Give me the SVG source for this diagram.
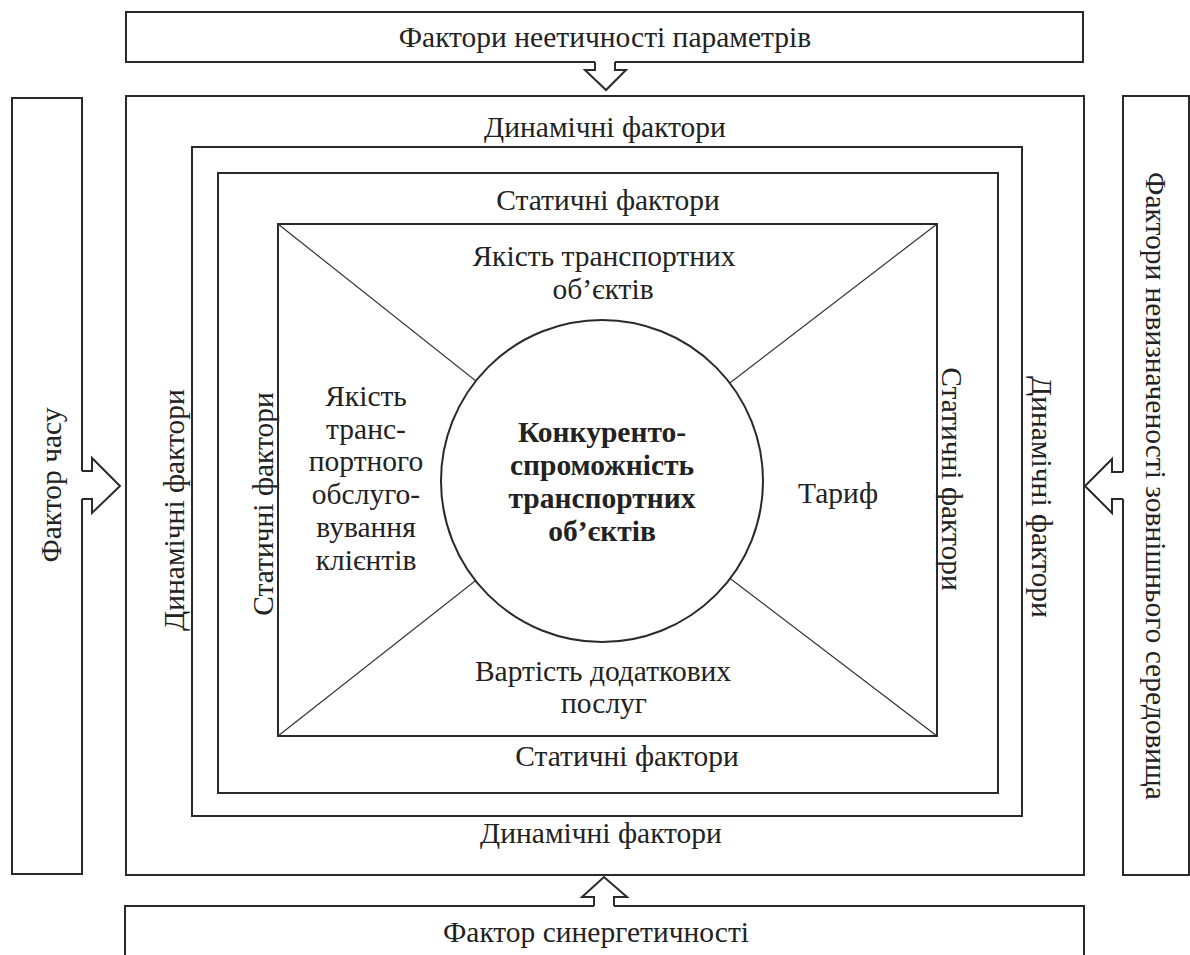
<svg xmlns="http://www.w3.org/2000/svg" width="1190" height="955" viewBox="0 0 1190 955">
<style>
.box{fill:none;stroke:#2a2a2a;stroke-width:2}
.diag{stroke:#333;stroke-width:1.2;fill:none}
.arrowfill{fill:#fff;stroke:none}
.arrow{fill:none;stroke:#2a2a2a;stroke-width:2;stroke-linejoin:miter}
.t{font-family:"Liberation Serif","Times New Roman",serif;font-size:29.5px;fill:#222;text-anchor:middle}
.b{font-weight:bold}
</style>
<rect width="1190" height="955" fill="#fff"/>

<g id="outer-dynamic">
  <rect class="box" x="126" y="96" width="958" height="779"/>
  <text class="t" x="605" y="137">Динамічні фактори</text>
  <text class="t" x="601" y="843">Динамічні фактори</text>
  <text class="t" transform="translate(184,510) rotate(-90)">Динамічні фактори</text>
  <text class="t" transform="translate(1032,497) rotate(90)">Динамічні фактори</text>
</g>

<g id="inner-dynamic">
  <rect class="box" x="192" y="147" width="830" height="669"/>
</g>

<g id="static">
  <rect class="box" x="218" y="173" width="780" height="620"/>
  <text class="t" x="608" y="210">Статичні фактори</text>
  <text class="t" x="627" y="766">Статичні фактори</text>
  <text class="t" transform="translate(273,504) rotate(-90)">Статичні фактори</text>
  <text class="t" transform="translate(942,479) rotate(90)">Статичні фактори</text>
</g>

<g id="inner">
  <rect class="box" x="278" y="224" width="659" height="512"/>
  <line class="diag" x1="278" y1="224" x2="602" y2="481"/>
  <line class="diag" x1="937" y1="224" x2="602" y2="481"/>
  <line class="diag" x1="278" y1="736" x2="602" y2="481"/>
  <line class="diag" x1="937" y1="736" x2="602" y2="481"/>
</g>

<g id="quality-objects">
  <text class="t" x="604" y="266">Якість транспортних</text>
  <text class="t" x="603" y="299">об’єктів</text>
</g>

<g id="quality-service">
  <text class="t" x="366" y="406">Якість</text>
  <text class="t" x="366" y="439">транс-</text>
  <text class="t" x="366" y="471">портного</text>
  <text class="t" x="366" y="504">обслуго-</text>
  <text class="t" x="366" y="537">вування</text>
  <text class="t" x="366" y="570">клієнтів</text>
</g>

<g id="tariff">
  <text class="t" x="838" y="503">Тариф</text>
</g>

<g id="extra-services">
  <text class="t" x="603" y="681">Вартість додаткових</text>
  <text class="t" x="604" y="713">послуг</text>
</g>

<g id="competitiveness">
  <circle cx="602" cy="481" r="161" fill="#fff" stroke="#2a2a2a" stroke-width="2"/>
  <text class="t b" x="602" y="442">Конкуренто-</text>
  <text class="t b" x="602" y="475">спроможність</text>
  <text class="t b" x="602" y="508">транспортних</text>
  <text class="t b" x="602" y="541">об’єктів</text>
</g>

<g id="factor-unethical">
  <rect class="box" x="126" y="12" width="957" height="50"/>
  <text class="t" x="605" y="47">Фактори неетичності параметрів</text>
</g>

<g id="factor-time">
  <rect class="box" x="12" y="98" width="70" height="776"/>
  <text class="t" transform="translate(61,485) rotate(-90)">Фактор часу</text>
</g>

<g id="factor-uncertainty">
  <rect class="box" x="1123" y="96" width="66" height="779"/>
  <text class="t" transform="translate(1146,486) rotate(90)">Фактори невизначеності зовнішнього середовища</text>
</g>

<g id="factor-synergy">
  <rect class="box" x="125" y="906" width="959" height="70"/>
  <text class="t" x="596" y="942">Фактор синергетичності</text>
</g>

<g id="connectors">
  <polygon class="arrowfill" points="595,60 595,70 585,70 606,90 626,70 615,70 615,60"/>
  <polyline class="arrow" points="595,62 595,70 585,70 606,90 626,70 615,70 615,62"/>
  <polygon class="arrowfill" points="80,471 92,471 92,458 120,486 92,513 92,499 80,499"/>
  <polyline class="arrow" points="82,471 92,471 92,458 120,486 92,513 92,499 82,499"/>
  <polygon class="arrowfill" points="1125,472 1112,472 1112,459 1085,486 1112,513 1112,499 1125,499"/>
  <polyline class="arrow" points="1123,472 1112,472 1112,459 1085,486 1112,513 1112,499 1123,499"/>
  <polygon class="arrowfill" points="594,908 594,897 582,897 604,877 627,897 614,897 614,908"/>
  <polyline class="arrow" points="594,906 594,897 582,897 604,877 627,897 614,897 614,906"/>
</g>
</svg>
